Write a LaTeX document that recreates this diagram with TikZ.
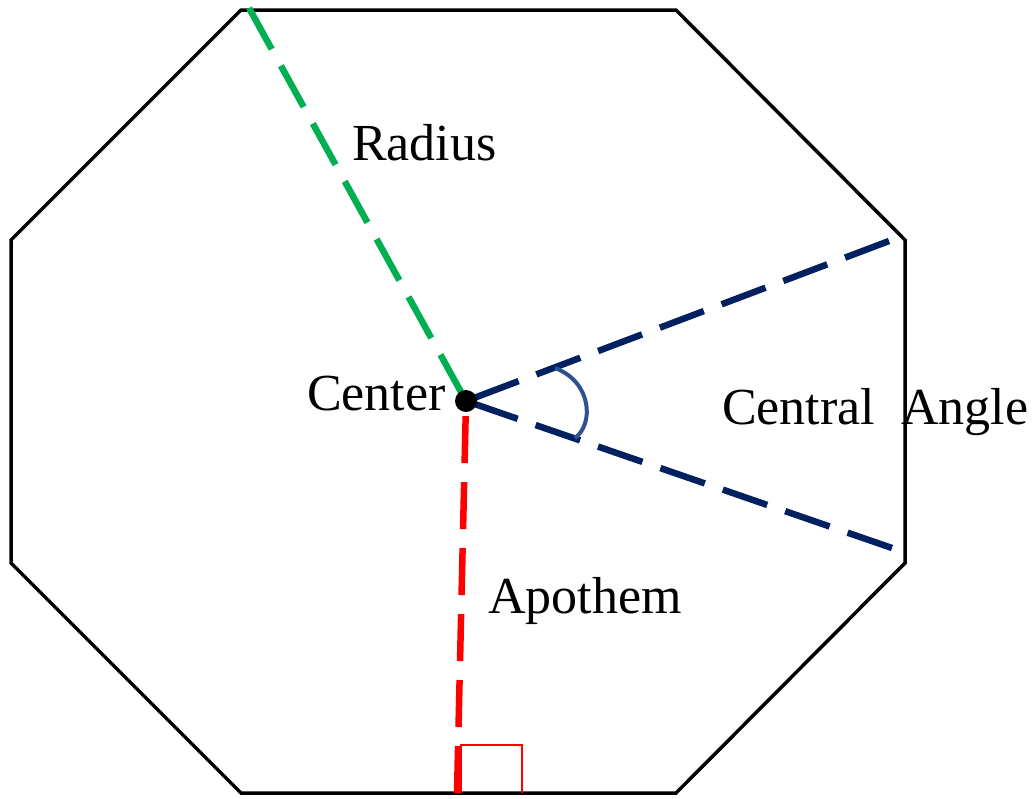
\documentclass[tikz,border=0pt]{standalone}
\usepackage{fontspec}
\setmainfont{Liberation Serif}
\definecolor{radgreen}{RGB}{0,176,80}
\definecolor{angnavy}{RGB}{0,32,96}
\definecolor{arcblue}{RGB}{47,82,143}
\tikzset{
  dashline/.style={line width=6.5pt, dash pattern=on 47pt off 19pt},
  lbl/.style={anchor=base west, inner sep=0pt, font=\fontsize{52}{62}\selectfont}
}
\begin{document}
\begin{tikzpicture}[x=1pt,y=-1pt]
			\useasboundingbox (0,0) rectangle (1032,798);
			% octagon
			\coordinate (A) at (241,10);
			\coordinate (B) at (676,10);
			\coordinate (C) at (905,240);
			\coordinate (D) at (905,563);
			\coordinate (E) at (676,793);
			\coordinate (F) at (241,793);
			\coordinate (G) at (11,563);
			\coordinate (H) at (11,240);
			\draw[line width=3.5pt, line join=miter] (A) -- (B) -- (C) -- (D) -- (E) -- (F) -- (G) -- (H) -- cycle;
			% segment ends
			\coordinate (R) at (249,8);
			\coordinate (P) at (889,241);
			\coordinate (Q) at (892,548);
			\coordinate (M) at (457,793);
			\coordinate (Oc) at (466,401);
			\draw[dashline, radgreen] (R) -- (Oc);
			\draw[dashline, angnavy] (P) -- (Oc);
			\draw[dashline, angnavy] (Q) -- (Oc);
			\draw[dashline, red] (M) -- (Oc);
			\node[circle, fill, inner sep=0pt, minimum size=22pt] (O) at (Oc) {};
			% right angle mark
			\draw[red, line width=1.8pt] (461,793) -- (461,745) -- (522,745) -- (522,793);
			% central angle arc
			\draw[arcblue, line width=4pt] (555,368) .. controls (592,382) and (594,424) .. (575,438);
			% labels
			\node[lbl] (radius) at (352,160) {Radius};
			\node[lbl] (center) at (307,410) {Center};
			\node[lbl] (central) at (722,424) {Central\ \ Angle};
			\node[lbl] (apothem) at (488,613) {Apothem};
		\end{tikzpicture}
\end{document}
